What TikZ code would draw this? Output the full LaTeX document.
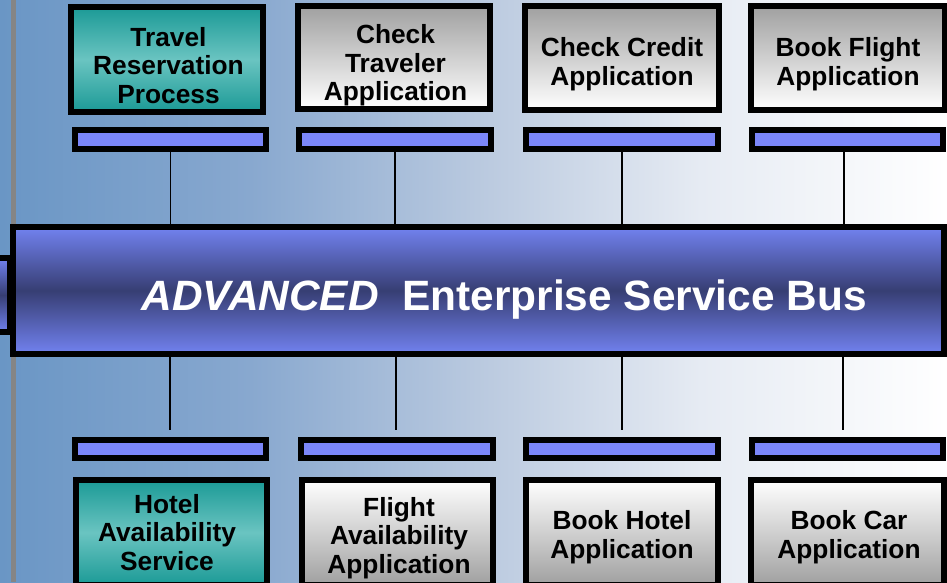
\documentclass[tikz,border=0pt]{standalone}
\usepackage{fontspec}
\setmainfont{Liberation Sans}
\usetikzlibrary{calc}
\definecolor{bgA}{HTML}{6A96C5}
\definecolor{bgB}{HTML}{88A8CF}
\definecolor{bgC}{HTML}{BCCBE0}
\definecolor{bgD}{HTML}{E6EBF3}
\definecolor{bgE}{HTML}{FFFFFF}
\definecolor{greyline}{HTML}{858585}
\definecolor{busedge}{HTML}{7282F0}
\definecolor{buscore}{HTML}{373E73}
\definecolor{barfill}{HTML}{7B86F9}
\definecolor{tealedge}{HTML}{1B9A96}
\definecolor{tealcore}{HTML}{6AC4C1}
\definecolor{greydark}{HTML}{A0A0A0}
\pgfdeclarehorizontalshading{bgshade}{100bp}{color(0bp)=(bgA); color(25bp)=(bgA); color(38.2bp)=(bgB); color(50.9bp)=(bgC); color(62bp)=(bgD); color(75bp)=(bgE); color(100bp)=(bgE)}
\begin{document}
\begin{tikzpicture}[x=1pt,y=-1pt,
  boxbase/.style={draw=black, line width=6pt, inner sep=0pt},
  tealbox/.style={boxbase, top color=tealedge, bottom color=tealedge, middle color=tealcore},
  topgrey/.style={boxbase, top color=greydark, bottom color=white},
  botgrey/.style={boxbase, top color=white, bottom color=greydark},
  boxtext/.style={inner sep=0pt, align=center, text=black, font=\bfseries\fontsize{26.3}{28.5}\selectfont},
  portbar/.style={draw=black, line width=6pt, fill=barfill, inner sep=0pt, minimum height=19pt},
  busbar/.style={draw=black, line width=6pt, inner sep=0pt, top color=busedge, bottom color=busedge, middle color=buscore},
  link/.style={draw=black, line width=1.5pt}]
\useasboundingbox (0,0) rectangle (947,582);
\clip (0,0) rectangle (947,582);
\shade[shading=bgshade] (0,0) rectangle (947,582);
\fill[greyline] (11,0) rectangle (16,582);

% top boxes
\node[tealbox, minimum width=192pt, minimum height=105pt] (t1) at (167,59.5) {};
\node[topgrey, minimum width=192pt, minimum height=103pt] (t2) at (394,57.5) {};
\node[topgrey, minimum width=194pt, minimum height=104pt] (t3) at (622,58) {};
\node[topgrey, minimum width=194pt, minimum height=104pt] (t4) at (848,58) {};
\node[boxtext] (t1x) at (168.5,65.5) {Travel\\Reservation\\Process};
\node[boxtext] (t2x) at (395.5,65.5) {Check\\Traveler\\Application};
\node[boxtext] (t3x) at (622,64) {Check Credit\\Application};
\node[boxtext] (t4x) at (848,64) {Book Flight\\Application};

% top port bars
\node[portbar, minimum width=191pt] (b1) at (170.5,139.5) {};
\node[portbar, minimum width=192pt] (b2) at (395,139.5) {};
\node[portbar, minimum width=192pt] (b3) at (622,139.5) {};
\node[portbar, minimum width=191pt] (b4) at (847.5,139.5) {};

% bottom port bars
\node[portbar, minimum width=191pt, minimum height=18pt] (c1) at (170.5,449) {};
\node[portbar, minimum width=192pt, minimum height=18pt] (c2) at (397,449) {};
\node[portbar, minimum width=192pt, minimum height=18pt] (c3) at (622,449) {};
\node[portbar, minimum width=191pt, minimum height=18pt] (c4) at (847.5,449) {};

% bottom boxes
\node[tealbox, minimum width=191pt, minimum height=105pt] (d1) at (171.5,532.5) {};
\node[botgrey, minimum width=191pt, minimum height=105pt] (d2) at (397.5,532.5) {};
\node[botgrey, minimum width=192pt, minimum height=105pt] (d3) at (622,532.5) {};
\node[botgrey, minimum width=193pt, minimum height=105pt] (d4) at (847.5,532.5) {};
\node[boxtext] (d1x) at (167,532.5) {Hotel\\Availability\\Service};
\node[boxtext] (d2x) at (399,538) {Flight\\Availability\\Application};
\node[boxtext] (d3x) at (622,537) {Book Hotel\\Application};
\node[boxtext] (d4x) at (849,537) {Book Car\\Application};

% bus
\node[busbar, minimum width=17pt, minimum height=74pt] (stub) at (1.5,295) {};
\node[busbar, minimum width=931pt, minimum height=127pt] (bus) at (478.5,290.5) {};
\node[anchor=base west, inner sep=0pt, text=white, font=\bfseries\fontsize{42.4}{48}\selectfont] (bustext) at (141.5,310) {\itshape ADVANCED\upshape\ \ Enterprise Service Bus};

% connectors
\draw[link] (b1.south) -- (b1.south |- bus.north);
\draw[link] (b2.south) -- (b2.south |- bus.north);
\draw[link] (b3.south) -- (b3.south |- bus.north);
\draw[link] ([xshift=-3.5pt]b4.south) -- ([xshift=-3.5pt]b4.south |- bus.north);
\draw[link] ([xshift=-0.5pt]c1.north |- bus.south) -- ([xshift=-0.5pt,yshift=7pt]c1.north);
\draw[link] ([xshift=-1pt]c2.north |- bus.south) -- ([xshift=-1pt,yshift=7pt]c2.north);
\draw[link] (c3.north |- bus.south) -- ([yshift=7pt]c3.north);
\draw[link] ([xshift=-4.5pt]c4.north |- bus.south) -- ([xshift=-4.5pt,yshift=7pt]c4.north);
\end{tikzpicture}
\end{document}
